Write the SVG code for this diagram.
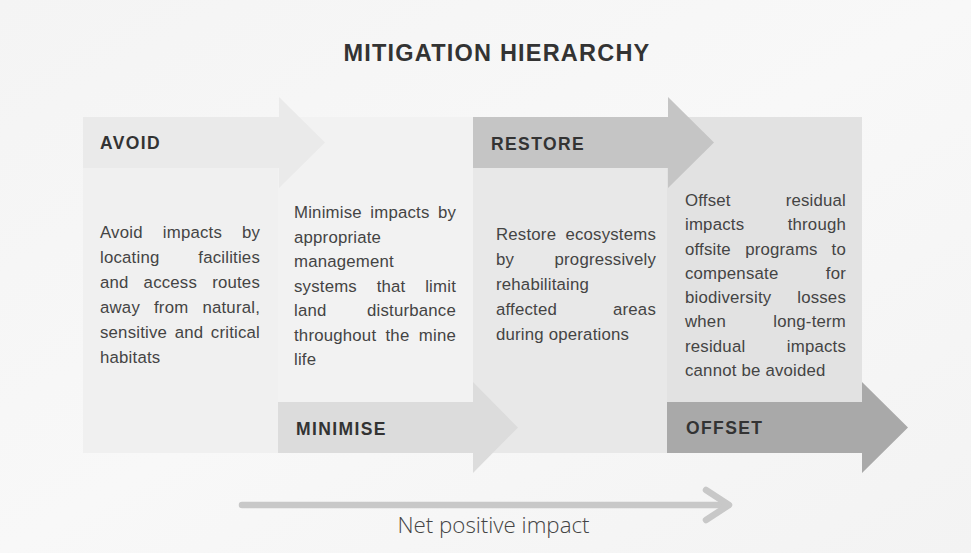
<svg xmlns="http://www.w3.org/2000/svg" width="971" height="553" viewBox="0 0 971 553">
<defs>
<style>
.title{font-family:"Liberation Sans",Arial,sans-serif;font-weight:bold;font-size:23.5px;letter-spacing:1.2px;fill:#333;}
.head{font-family:"Liberation Sans",Arial,sans-serif;font-weight:bold;font-size:17.5px;letter-spacing:1.4px;fill:#333;}
.body{font-family:"Liberation Sans",Arial,sans-serif;font-size:16.8px;letter-spacing:0.2px;fill:#444;}
.end{text-anchor:end;}
.net{font-family:"Open Sans","Liberation Sans",sans-serif;font-weight:300;font-size:22.3px;fill:#444;text-anchor:middle;}
.conn{fill:none;stroke:#c8c8c8;stroke-width:6.5;stroke-linecap:round;stroke-linejoin:round;}
</style>
<linearGradient id="bg" x1="0" y1="0" x2="1" y2="1">
<stop offset="0" stop-color="#f4f4f4"/>
<stop offset="0.5" stop-color="#f8f8f8"/>
<stop offset="1" stop-color="#f3f3f3"/>
</linearGradient>
</defs>
<rect width="971" height="553" fill="url(#bg)"/>
<text class="title" x="497" y="61" text-anchor="middle">MITIGATION HIERARCHY</text>

<g id="offset">
<rect x="667" y="117" width="195" height="336" fill="#e2e2e2"/>
<polygon points="667,402 862,402 862,382 908,427.5 862,473 862,453 667,453" fill="#a9a9a9"/>
<text class="head" x="686" y="434">OFFSET</text>
<text class="body"><tspan x="685" y="206">Offset</tspan><tspan class="end" x="846" y="206">residual</tspan></text>
<text class="body"><tspan x="685" y="230.3">impacts</tspan><tspan class="end" x="846" y="230.3">through</tspan></text>
<text class="body"><tspan x="685" y="254.5">offsite</tspan><tspan x="745.2" y="254.5">programs</tspan><tspan class="end" x="846" y="254.5">to</tspan></text>
<text class="body"><tspan x="685" y="278.8">compensate</tspan><tspan class="end" x="846" y="278.8">for</tspan></text>
<text class="body"><tspan x="685" y="303">biodiversity</tspan><tspan class="end" x="846" y="303">losses</tspan></text>
<text class="body"><tspan x="685" y="327.3">when</tspan><tspan class="end" x="846" y="327.3">long-term</tspan></text>
<text class="body"><tspan x="685" y="351.5">residual</tspan><tspan class="end" x="846" y="351.5">impacts</tspan></text>
<text class="body" x="685" y="375.8">cannot be avoided</text>
</g>

<g id="restore">
<rect x="473" y="117" width="194" height="336" fill="#e8e8e8"/>
<polygon points="473,117 668,117 668,97 714,142.5 668,188 668,168 473,168" fill="#c5c5c5"/>
<text class="head" x="491" y="150">RESTORE</text>
<text class="body"><tspan x="496" y="240">Restore</tspan><tspan class="end" x="656" y="240">ecosystems</tspan></text>
<text class="body"><tspan x="496" y="265">by</tspan><tspan class="end" x="656" y="265">progressively</tspan></text>
<text class="body" x="496" y="290">rehabilitaing</text>
<text class="body"><tspan x="496" y="315">affected</tspan><tspan class="end" x="656" y="315">areas</tspan></text>
<text class="body" x="496" y="340">during operations</text>
</g>

<g id="minimise">
<rect x="278" y="117" width="195" height="336" fill="#f2f2f2"/>
<polygon points="278,402 473,402 473,382 518,427.5 473,473 473,453 278,453" fill="#dcdcdc"/>
<text class="head" x="296" y="435">MINIMISE</text>
<text class="body"><tspan x="294" y="218.3">Minimise</tspan><tspan x="370.3" y="218.3">impacts</tspan><tspan class="end" x="456" y="218.3">by</tspan></text>
<text class="body" x="294" y="242.8">appropriate</text>
<text class="body" x="294" y="267.3">management</text>
<text class="body"><tspan x="294" y="291.8">systems</tspan><tspan x="376.7" y="291.8">that</tspan><tspan class="end" x="456" y="291.8">limit</tspan></text>
<text class="body"><tspan x="294" y="316.3">land</tspan><tspan class="end" x="456" y="316.3">disturbance</tspan></text>
<text class="body"><tspan x="294" y="340.8">throughout</tspan><tspan x="385.5" y="340.8">the</tspan><tspan class="end" x="456" y="340.8">mine</tspan></text>
<text class="body" x="294" y="365.3">life</text>
</g>

<g id="avoid">
<rect x="83" y="117" width="195" height="336" fill="#f0f0f0"/>
<polygon points="83,117 279,117 279,97 325,142.5 279,188 279,168 83,168" fill="#eaeaea"/>
<text class="head" x="100" y="149">AVOID</text>
<text class="body"><tspan x="100" y="238">Avoid</tspan><tspan x="162.8" y="238">impacts</tspan><tspan class="end" x="260" y="238">by</tspan></text>
<text class="body"><tspan x="100" y="263">locating</tspan><tspan class="end" x="260" y="263">facilities</tspan></text>
<text class="body"><tspan x="100" y="288">and</tspan><tspan x="143.6" y="288">access</tspan><tspan class="end" x="260" y="288">routes</tspan></text>
<text class="body"><tspan x="100" y="313">away</tspan><tspan x="154" y="313">from</tspan><tspan class="end" x="260" y="313">natural,</tspan></text>
<text class="body"><tspan x="100" y="338">sensitive</tspan><tspan x="174.7" y="338">and</tspan><tspan class="end" x="260" y="338">critical</tspan></text>
<text class="body" x="100" y="363">habitats</text>
</g>

<g id="connectors">
<path class="conn" d="M242,505 H728"/>
<path class="conn" d="M706,490 L729,505 L706,520"/>
<text class="net" x="493.5" y="533">Net positive impact</text>
</g>
</svg>
